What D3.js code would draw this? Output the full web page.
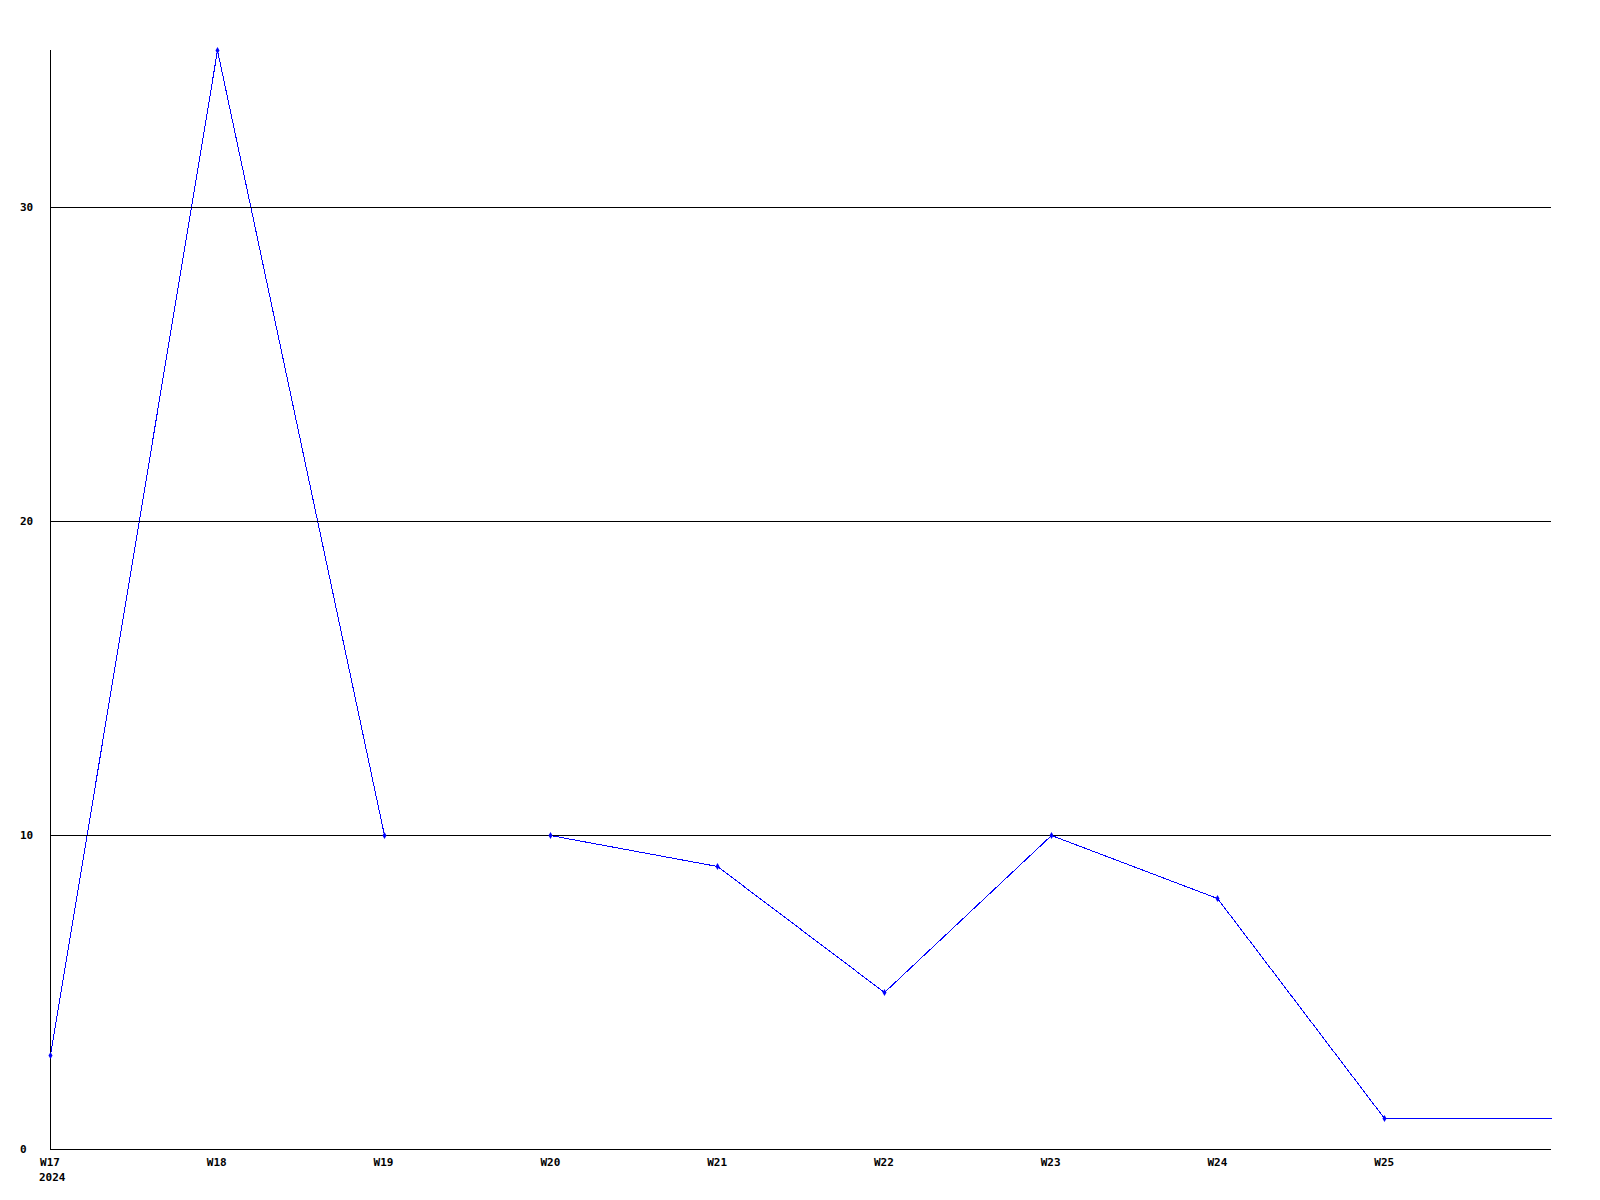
<!DOCTYPE html>
<html><head><meta charset="utf-8">
<script src="https://cdn.jsdelivr.net/npm/d3@7"></script>
<style>body{margin:0;background:#fff}svg{display:block}</style>
</head><body>
<script>
const weeks = ["W17","W18","W19","W20","W21","W22","W23","W24","W25","W26"];
const values = [3,35,10,10,9,5,10,8,1,1];
const tickLabels = ["W17","W18","W19","W20","W21","W22","W23","W24","W25"];
const yTicks = [0,10,20,30];
const yearLabel = "2024";

(function(){
const W=1600,H=1200;
const mLeft=50,mRight=1551,mTop=50,mBottom=1149;
const svg=d3.select("body").append("svg").attr("width",W).attr("height",H);
const x=d3.scalePoint().domain(weeks).range([mLeft,mRight]);
const y=d3.scaleLinear().domain([0,35]).range([mBottom,mTop]);
const font='"DejaVu Sans Mono", monospace';
const data=weeks.map((w,i)=>({w,v:values[i]}));
const px=d=>Math.round(x(d.w))+0.5, py=d=>Math.round(y(d.v))+0.5;

// line
svg.append("path").datum(data)
  .attr("d",d3.line().x(px).y(py))
  .attr("fill","none").attr("stroke","#0000ff").attr("stroke-width",1)
  .attr("shape-rendering","crispEdges");

// gridlines
svg.append("g").selectAll("line").data(yTicks.filter(d=>d>0)).join("line")
  .attr("x1",mLeft).attr("x2",mRight).attr("y1",d=>Math.round(y(d))+0.5).attr("y2",d=>Math.round(y(d))+0.5)
  .attr("stroke","#000").attr("stroke-width",1).attr("shape-rendering","crispEdges");
// axes lines
svg.append("line").attr("x1",mLeft+0.5).attr("x2",mLeft+0.5).attr("y1",mTop).attr("y2",mBottom)
  .attr("stroke","#000").attr("shape-rendering","crispEdges");
svg.append("line").attr("x1",mLeft).attr("x2",mRight).attr("y1",mBottom+0.5).attr("y2",mBottom+0.5)
  .attr("stroke","#000").attr("shape-rendering","crispEdges");

// y labels
svg.append("g").selectAll("text").data(yTicks).join("text")
  .attr("x",20).attr("y",d=>y(d)+4).attr("text-anchor","start")
  .attr("font-family",font).attr("font-weight","bold").attr("font-size",11).text(d=>d);
// x labels
svg.append("g").selectAll("text").data(tickLabels).join("text")
  .attr("x",d=>x(d)).attr("y",mBottom+17).attr("text-anchor","middle")
  .attr("font-family",font).attr("font-weight","bold").attr("font-size",11).text(d=>d);
svg.append("text").attr("x",mLeft-11).attr("y",mBottom+32)
  .attr("font-family",font).attr("font-weight","bold").attr("font-size",11).text(yearLabel);

// markers
svg.append("g").selectAll("path").data(data.slice(0,tickLabels.length)).join("path")
  .attr("transform",d=>`translate(${px(d)},${py(d)})`)
  .attr("d",d3.symbol(d3.symbolDiamond,14)())
  .attr("fill","#0000ff");
})();
</script>
</body></html>
